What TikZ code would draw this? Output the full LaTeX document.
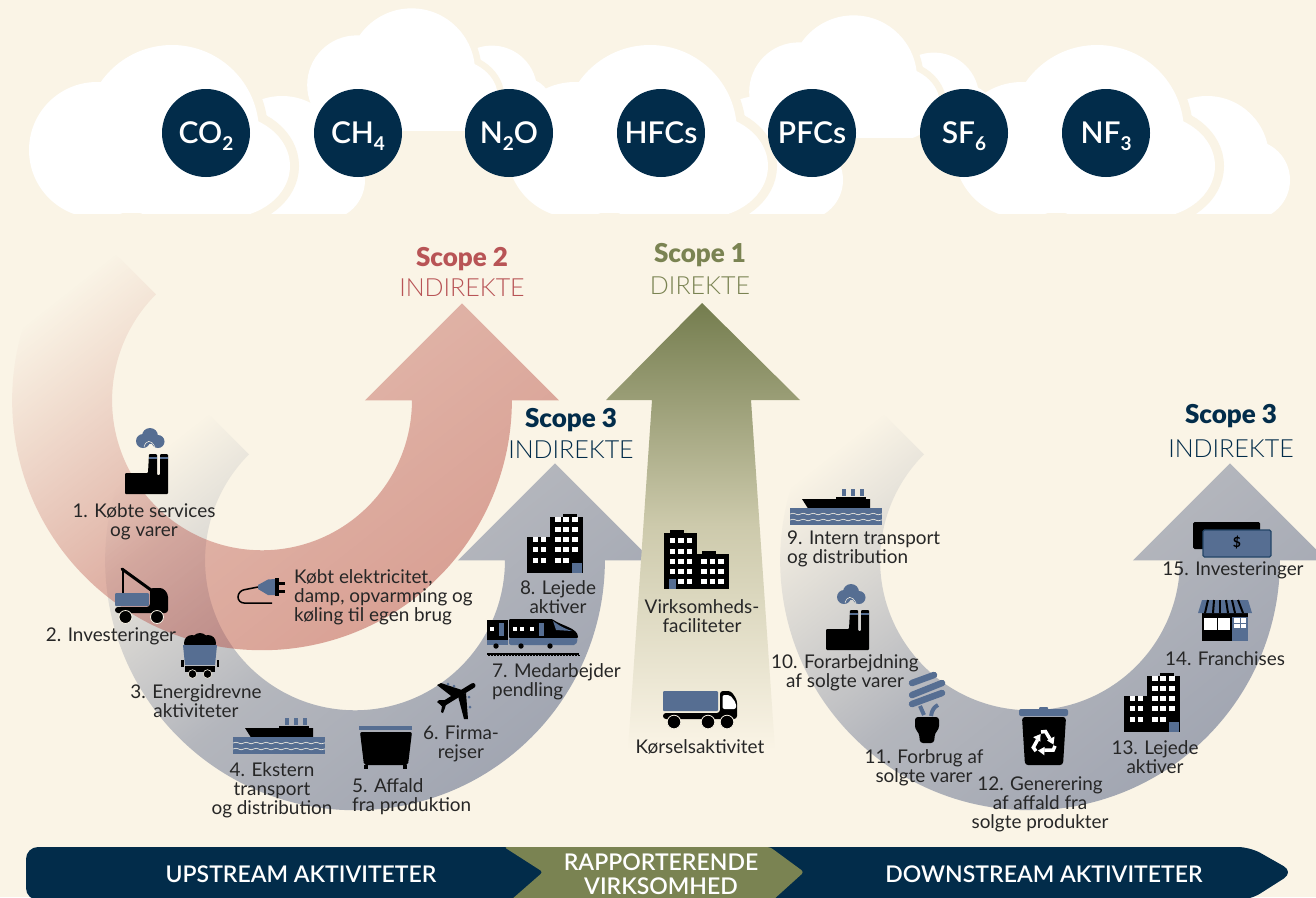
\documentclass[tikz,border=0pt]{standalone}
\usepackage{fontspec}
\setmainfont{Lato}
\newfontfamily\thinfont{Lato Light}
\newfontfamily\semifont{Lato Semibold}
\newfontfamily\heavyfont{Lato Black}
\usetikzlibrary{fadings,decorations.pathmorphing}
\definecolor{bgcream}{RGB}{250,244,230}
\definecolor{navy}{RGB}{2,44,74}
\definecolor{olive}{RGB}{122,131,82}
\definecolor{rust}{RGB}{184,84,86}
\definecolor{bandred}{RGB}{182,72,62}
\definecolor{bandgray}{RGB}{158,163,176}
\definecolor{iconblue}{RGB}{86,110,146}
\tikzfading[name=tailfade, top color=transparent!100, bottom color=transparent!0, middle color=transparent!24]

\newcommand{\Cloud}[3]{
\begin{scope}[shift={(#1,#2)}, scale=#3]
\clip (0,0) rectangle (420,213);
\fill[white] (282,158) circle (62);
\fill[white] (325,180) circle (40);
\fill[white] (282,160) rectangle (345,213);
\begin{scope} % gap round the front lobes
\clip (200,0) rectangle (420,213);
\draw[bgcream, line width=18pt*#3] (172,132) circle (87);
\draw[bgcream, line width=18pt*#3, fill=bgcream] (225,166) ellipse (65 and 52);
\end{scope}
\fill[white] (97,150) circle (68);
\fill[white] (172,132) circle (87);
\fill[white] (225,166) ellipse (65 and 52);
\fill[white] (74,150) rectangle (253,213);
\end{scope}
}
\newcommand{\BendArrow}[2]{
\path[#2] (#1) ++(225:250) arc (225:0:250) -- ++(47,0) -- ++(-97,-97) -- ++(-97,97) -- ++(47,0) arc (0:225:150) -- cycle;
}
\newcommand{\Factory}[2]{
\begin{scope}[shift={(#1,#2)}]
\fill[black, rounded corners=1pt] (0,0) -- (0,-21) -- (23,-21) -- (24,-40) -- (32,-40) -- (32,-19) -- (35,-19) -- (35,-40) -- (43,-40) -- (43,0) -- cycle;
\fill[iconblue] (24,-37) rectangle (32,-35.5);
\fill[iconblue] (35,-37) rectangle (43,-35.5);
\fill[iconblue] (18,-53) circle (7);
\fill[iconblue] (25,-58) circle (8);
\fill[iconblue] (33,-52.5) circle (6.5);
\draw[bgcream, line width=.5pt] (19,-47) .. controls (21,-54) and (26,-55) .. (30,-47);
\end{scope}
}
\newcommand{\Ship}[2]{
\begin{scope}[shift={(#1,#2)}]
\fill[iconblue] (52,-36) rectangle (56,-29);
\fill[iconblue] (61,-36) rectangle (65,-29);
\fill[iconblue] (70,-36) rectangle (74,-29);
\fill[black] (46,-28) rectangle (76,-26);
\fill[black] (12,-26) -- (80,-26) -- (80,-15) -- (19,-15) -- cycle;
\fill[iconblue] (0,-17) rectangle (92,0);
\draw[bgcream, line width=.6pt, decorate, decoration={snake, amplitude=.8, segment length=10}] (0,-11) -- (92,-11);
\draw[bgcream, line width=.6pt, decorate, decoration={snake, amplitude=.8, segment length=10}] (0,-5) -- (92,-5);
\end{scope}
}
\newcommand{\Tower}[2]{
\begin{scope}[shift={(#1,#2)}]
\fill[black] (0,0) rectangle (23,-36);
\fill[black] (23,0) rectangle (56,-56);
\fill[black] (36,-56) rectangle (50,-59);
\foreach \rowy in {-10,-21,-31}{
  \fill[white] (5.5,\rowy) rectangle ++(5.5,-5);
  \fill[white] (13.7,\rowy) rectangle ++(5.5,-5);
}
\foreach \rowy in {-10,-21,-31,-41,-51}{
  \fill[white] (28,\rowy) rectangle ++(5.5,-5);
  \fill[white] (36.3,\rowy) rectangle ++(5.5,-5);
}
\foreach \rowy in {-21,-31,-41,-51}
  \fill[white] (45,\rowy) rectangle ++(5.5,-5);
\fill[iconblue] (45,0) rectangle (55,-10);
\end{scope}
}

\begin{document}
\begin{tikzpicture}[x=1pt, y=-1pt, >=stealth,
lbl/.style={align=center, inner sep=0, yshift=-1.5pt, text=black!85, font=\fontsize{18.9}{19}\selectfont},
lblleft/.style={lbl, align=left, anchor=west},
gas/.style={circle, fill=navy, text=white, minimum size=88pt, inner sep=0, text height=21pt, text depth=0pt, font=\semifont\fontsize{30}{32}\selectfont},
scopehead/.style={inner sep=0, yshift=-1pt, font=\heavyfont\fontsize{26}{28}\selectfont},
scopesub/.style={inner sep=0, font=\thinfont\fontsize{25}{27}\selectfont},
bartext/.style={inner sep=0, text=white, align=center, font=\semifont\fontsize{23}{24.5}\selectfont},
]
\newcommand{\Sub}[1]{\raisebox{-.22em}{\normalfont\bfseries\fontsize{19}{19}\selectfont #1}}

%%%%%%%%%%%%%%%%%%%%%%%% BACKGROUND %%%%%%%%%%%%%%%%%%%%%%%%
\fill[bgcream] (0,0) rectangle (1316,897);
\useasboundingbox (0,0) rectangle (1316,897);

%%%%%%%%%%%%%%%%%%%%%%%% CLOUDS %%%%%%%%%%%%%%%%%%%%%%%%
\Cloud{286}{-24.5}{.73}
\Cloud{728}{-17.5}{.73}
\Cloud{0}{0}{1}
\Cloud{478}{0}{1}
\Cloud{925}{0}{1}

\node[gas] (co2) at (206,133) {CO\Sub{2}};
\node[gas] (ch4) at (358,133) {CH\Sub{4}};
\node[gas] (n2o) at (509,133) {N\Sub{2}O};
\node[gas] (hfc) at (661,133) {HFCs};
\node[gas] (pfc) at (812,133) {PFCs};
\node[gas] (sf6) at (964,133) {SF\Sub{6}};
\node[gas] (nf3) at (1106,133) {NF\Sub{3}};

%%%%%%%%%%%%%%%%%%%%%%%% ARROWS %%%%%%%%%%%%%%%%%%%%%%%%
\coordinate (up) at (355,560);
\coordinate (down) at (1030,560);
\coordinate (red) at (262,400);

\BendArrow{up}{fill=bandgray, path fading=tailfade, fading angle=45}
\BendArrow{down}{fill=bandgray, path fading=tailfade, fading angle=45}
\BendArrow{red}{fill=bandred, fill opacity=.5, path fading=tailfade, fading angle=45}

\shade[top color=olive!95!black, bottom color=bgcream, middle color={rgb,255:red,205;green,202;blue,172}]
  (702,303) -- (800,400) -- (751,400) -- (775,750) -- (628,750) -- (652,400) -- (606,400) -- cycle;

%%%%%%%%%%%%%%%%%%%%%%%% SCOPE TITLES %%%%%%%%%%%%%%%%%%%%%%%%
\node[scopehead, text=rust] (s2) at (462,258) {Scope 2};
\node[scopesub, text=rust] (s2sub) at (462,288) {INDIREKTE};
\node[scopehead, text=olive] (s1) at (700,254) {Scope 1};
\node[scopesub, text=olive] (s1sub) at (700,286) {DIREKTE};
\node[scopehead, text=navy] (s3a) at (571,419) {Scope 3};
\node[scopesub, text=navy] (s3asub) at (571,450) {INDIREKTE};
\node[scopehead, text=navy] (s3b) at (1231,415) {Scope 3};
\node[scopesub, text=navy] (s3bsub) at (1231,449) {INDIREKTE};

%%%%%%%%%%%%%%%%%%%%%%%% ICONS %%%%%%%%%%%%%%%%%%%%%%%%
\Factory{125}{494}
\Factory{826}{650}
\Ship{233}{754}
\Ship{790}{525}
\Tower{527}{573}
\Tower{1124}{732}

%% crane truck
\draw[black, line width=1.3pt] (123,570) -- (123,594);
\draw[black, line width=3pt, line cap=round] (122,569) -- (151,590);
\fill[iconblue, rounded corners=1pt] (115,593) rectangle (149,606);
\fill[black, rounded corners=3pt] (150,588) -- (163,588) -- (168,594) -- (168,613) -- (115,613) -- (115,607) -- (150,607) -- cycle;
\foreach \wheelx in {125.5,157}
  \filldraw[black, draw=bgcream, line width=.8pt] (\wheelx,617) circle (6.5);

%% coal cart
\fill[black] (192,643) circle (8);
\fill[black] (200,641) circle (8);
\fill[black] (208,643) circle (8);
\fill[iconblue] (183,645) -- (217,645) -- (215,665) -- (185,665) -- cycle;
\fill[black] (185,666) rectangle (215,672);
\fill[black] (181,660) rectangle (183.5,667);
\fill[black] (216.5,660) rectangle (219,667);
\foreach \wheelx in {192.5,207.5}
  \filldraw[black, draw=bgcream, line width=.6pt] (\wheelx,674) circle (4.3);

%% plug
\draw[black, line width=1.5pt, rounded corners=6pt] (272,603) -- (238,603) -- (238,591) -- (258,587);
\fill[iconblue] (258,585) -- (268,579.5) -- (275,579) -- (275,595) -- (268,595) -- (258,589) -- cycle;
\fill[black] (275,578) rectangle (279,596);
\fill[black] (279,582) rectangle (285,585);
\fill[black] (279,590) rectangle (285,593);

%% container
\fill[iconblue] (359,726) rectangle (412,730);
\fill[black, rounded corners=2pt] (360,732) -- (412,732) -- (408,765) -- (364,765) -- cycle;
\fill[black] (364,765) rectangle (368,769);
\fill[black] (403,765) rectangle (407,769);

%% plane
\draw[black, line width=5pt, line cap=round] (473,685.5) -- (443,704);
\fill[black] (437,685) -- (441,683) -- (465,691) -- (455,699) -- cycle;
\fill[black] (458,696) -- (466,693) -- (468,719) -- (464,719) -- cycle;
\fill[black] (437,702) -- (439,700) -- (447,700) -- (445,708) -- (443,713) -- (441,712) -- (442,706) -- cycle;
\fill[iconblue] (448,684) circle (1.5);
\fill[iconblue] (454,686) circle (1.5);
\fill[iconblue] (469,697) circle (1.5);
\fill[iconblue] (470,707) circle (1.5);

%% train
\fill[black] (487,620) rectangle (508,640);
\fill[black, rounded corners=1pt] (509,619) -- (552,619) .. controls (562,626) and (578,628) .. (578,638) -- (509,638) -- cycle;
\fill[iconblue] (487,640) rectangle (508,645);
\fill[iconblue, rounded corners=2pt] (509,638) -- (578,638) -- (576,645) -- (509,645) -- cycle;
\fill[iconblue] (553,621) .. controls (561,627) and (566,629) .. (572,631) -- (556,630) -- cycle;
\fill[white] (490,627) rectangle (494,631);
\fill[iconblue] (499,623) rectangle (504,636);
\fill[iconblue] (539,623) rectangle (544,636);
\foreach \winx in {513,520,530}
  \fill[white] (\winx,627) rectangle ++(4,4);
\foreach \wheelx in {496,521,550}
  \fill[black] (\wheelx,646) circle (2.7);
\fill[black] (487,653) rectangle (579,654.5);
\foreach \tiex in {488,491,...,578}
  \fill[black] (\tiex,654.5) rectangle ++(1.5,1.5);

%% facility
\fill[black] (664,533) rectangle (697,589);
\fill[black] (697,554) rectangle (729,589);
\fill[black] (670,530) rectangle (684,533);
\fill[black] (702,551) rectangle (716,554);
\foreach \rowy in {538,548.5,559,569,579}{
  \foreach \colx in {669.5,678,686.5}
    \fill[white] (\colx,\rowy) rectangle ++(5.5,5);
}
\foreach \rowy in {559,569,579}{
  \foreach \colx in {701,709.5,718}
    \fill[white] (\colx,\rowy) rectangle ++(5.5,5);
}
\fill[iconblue] (669,579) rectangle (676,589);

%% lorry
\fill[iconblue, rounded corners=1pt] (663,691) rectangle (718,711);
\fill[black, rounded corners=3pt] (720,691) -- (731,691) -- (737,700) -- (737,719) -- (663,719) -- (663,713) -- (720,713) -- cycle;
\fill[white, rounded corners=2pt] (722.5,695) -- (730,695) -- (736,703) -- (736,709) -- (722.5,709) -- cycle;
\foreach \wheelx in {674,708,727}
  \filldraw[black, draw=bgcream, line width=.8pt] (\wheelx,722) circle (6.8);

%% bulb
\draw[iconblue, line width=6.5pt, line cap=round] (912,683) -- (934,675);
\draw[iconblue, line width=6.5pt, line cap=round] (912,695) -- (942,683);
\draw[iconblue, line width=6.5pt, line cap=round] (912,704) -- (942,693);
\draw[iconblue, line width=4pt] (924,715) -- (920,706);
\draw[iconblue, line width=4pt] (931,716) .. controls (932,710) and (934,707) .. (938,705);
\fill[black, rounded corners=3pt] (915,717) -- (939,717) -- (939,729) -- (935,733) -- (934,743) -- (920,743) -- (919,733) -- (915,729) -- cycle;

%% recycling bin
\fill[iconblue, rounded corners=2pt] (1019,709) rectangle (1068,716);
\fill[iconblue, rounded corners=1pt] (1039,707) rectangle (1048,710);
\fill[black, rounded corners=3pt] (1022,717) -- (1066,717) -- (1063,765) -- (1025,765) -- cycle;
\foreach \turn in {0,120,240}{
  \begin{scope}[shift={(1044,743)}, rotate=\turn]
    \draw[white, line width=3.5pt] (-3,-11) -- (1.5,-11.5) -- (6,-4);
    \fill[white] (10.5,-6.5) -- (3,-2.5) -- (9.5,1.5) -- cycle;
  \end{scope}
}

%% store
\fill[black] (1202,613) rectangle (1248,641);
\fill[iconblue] (1202,600) -- (1248,600) -- (1252,613) -- (1198,613) -- cycle;
\foreach \awnx/\awnb in {1208/1205,1214/1213,1220/1220,1226/1228,1232/1235,1238/1243}
  \draw[black, line width=2pt] (\awnx,600) -- (\awnb,613);
\fill[white] (1204,618) rectangle (1230,630);
\draw[black, line width=1pt] (1217,618) -- (1217,630);
\fill[iconblue] (1232,617) rectangle (1248,641);
\fill[white] (1234,618) rectangle (1246,628);
\draw[iconblue, line width=1pt] (1240,618) -- (1240,628);
\draw[iconblue, line width=1pt] (1234,623) -- (1246,623);

%% money
\fill[black, rounded corners=1.5pt] (1193,522) rectangle (1260,549);
\filldraw[fill=iconblue, draw=navy!60!iconblue, line width=1.2pt, rounded corners=1.5pt] (1203,530) rectangle (1271,557);
\node[inner sep=0, font=\bfseries\fontsize{14}{14}\selectfont] (dollar) at (1237,543) {\$};

%%%%%%%%%%%%%%%%%%%%%%%% LABELS %%%%%%%%%%%%%%%%%%%%%%%%
\node[lbl] (l1) at (144,520) {1. Købte services\\og varer};
\node[lbl] (l2) at (111,635) {2. Investeringer};
\node[lbl] (l3) at (196,700) {3. Energidrevne\\aktiviteter};
\node[lbl] (l4) at (272,789) {4. Ekstern\\transport\\og distribution};
\node[lblleft] (l5) at (352,795) {5. Affald\\fra produktion};
\node[lbl] (l6) at (461,742) {6. Firma-\\rejser};
\node[lblleft] (l7) at (492,680) {7. Medarbejder\\pendling};
\node[lbl] (l8) at (558,596) {8. Lejede\\aktiver};
\node[lblleft] (lplug) at (294,596) {Købt elektricitet,\\damp, opvarmning og\\køling til egen brug};
\node[lbl] (lfac) at (702,615) {Virksomheds-\\faciliteter};
\node[lbl] (llorry) at (700,745) {Kørselsaktivitet};
\node[lblleft] (l9) at (787,547) {9. Intern transport\\og distribution};
\node[lbl] (l10) at (845,671) {10. Forarbejdning\\af solgte varer};
\node[lbl] (l11) at (924,766) {11. Forbrug af\\solgte varer};
\node[lbl] (l12) at (1040,803) {12. Generering\\af affald fra\\solgte produkter};
\node[lbl] (l13) at (1155,756) {13. Lejede\\aktiver};
\node[lbl] (l14) at (1225,657) {14. Franchises};
\node[lbl] (l15) at (1233,569) {15. Investeringer};

%%%%%%%%%%%%%%%%%%%%%%%% BOTTOM BAR %%%%%%%%%%%%%%%%%%%%%%%%
\fill[navy, rounded corners=12pt] (26,847) -- (1250,847) -- (1294,872) -- (1250,900) -- (26,900) -- cycle;
\fill[olive, rounded corners=3pt] (504,847) -- (770,847) -- (804,872) -- (773,900) -- (511,900) -- (543,872) -- cycle;
\node[bartext] (upbar) at (301,874) {UPSTREAM AKTIVITETER};
\node[bartext] (midbar) at (661,874) {RAPPORTERENDE\\VIRKSOMHED};
\node[bartext] (downbar) at (1044,874) {DOWNSTREAM AKTIVITETER};
\end{tikzpicture}
\end{document}
